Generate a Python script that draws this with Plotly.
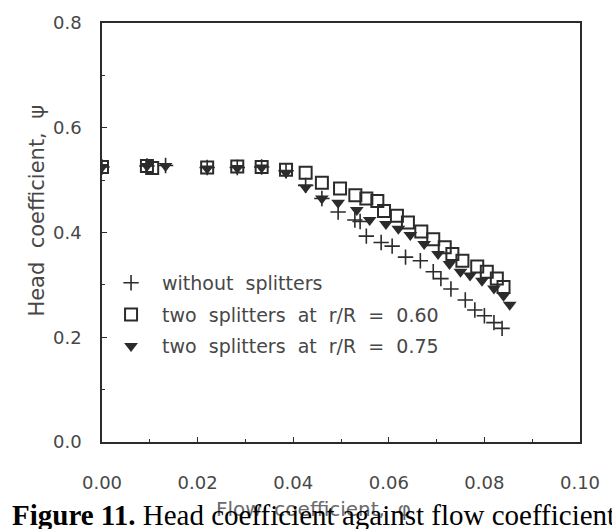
import plotly.graph_objects as go

# Flow coefficient (phi) and head coefficient (psi)
phi_none = [0.0, 0.0094, 0.0133, 0.022, 0.0283, 0.0334, 0.0385, 0.0426, 0.046,
            0.0494, 0.0529, 0.054, 0.0553, 0.0584, 0.0607, 0.0635, 0.0666, 0.0693,
            0.0709, 0.073, 0.076, 0.078, 0.080, 0.082, 0.0837]
psi_none = [0.525, 0.527, 0.528, 0.524, 0.524, 0.525, 0.518, 0.49, 0.465,
            0.439, 0.424, 0.421, 0.393, 0.381, 0.374, 0.353, 0.346, 0.325,
            0.312, 0.292, 0.271, 0.252, 0.241, 0.228, 0.217]

phi_060 = [0.0, 0.0094, 0.0105, 0.022, 0.0283, 0.0334, 0.0385, 0.0426, 0.046,
           0.0498, 0.053, 0.0553, 0.0576, 0.059, 0.0617, 0.064, 0.0668, 0.0693,
           0.0717, 0.0733, 0.0754, 0.0785, 0.0805, 0.0826, 0.0840]
psi_060 = [0.525, 0.527, 0.523, 0.524, 0.526, 0.525, 0.52, 0.514, 0.495,
           0.484, 0.471, 0.465, 0.460, 0.441, 0.432, 0.419, 0.402, 0.387,
           0.372, 0.359, 0.346, 0.335, 0.325, 0.312, 0.296]

phi_075 = [0.0, 0.0094, 0.0133, 0.022, 0.0283, 0.0334, 0.0385, 0.0426, 0.046,
           0.0494, 0.0533, 0.056, 0.0594, 0.062, 0.0645, 0.0674, 0.0703, 0.0727,
           0.075, 0.077, 0.0795, 0.082, 0.084, 0.0853]
psi_075 = [0.525, 0.527, 0.527, 0.522, 0.523, 0.524, 0.514, 0.486, 0.465,
           0.457, 0.443, 0.424, 0.416, 0.407, 0.395, 0.378, 0.359, 0.340,
           0.325, 0.318, 0.308, 0.293, 0.279, 0.262]

x_ticks = [0.0, 0.02, 0.04, 0.06, 0.08, 0.10]
y_ticks = [0.0, 0.2, 0.4, 0.6, 0.8]

NB = "\u00a0 "
names = ["without" + NB + "splitters",
         "two" + NB + "splitters" + NB + "at" + NB + "r/R" + NB + "=" + NB + "0.60",
         "two" + NB + "splitters" + NB + "at" + NB + "r/R" + NB + "=" + NB + "0.75"]

INK = "#2b2b2b"
TXT = "#474747"
FONT = "DejaVu Sans"

fig = go.Figure()
fig.add_trace(go.Scatter(
    x=phi_none, y=psi_none, mode="markers", name=names[0],
    legendgroup="a",
    marker=dict(symbol="cross-thin", size=11, line=dict(width=1.6, color=INK), color=INK)))
fig.add_trace(go.Scatter(
    x=phi_060, y=psi_060, mode="markers", name=names[1],
    legendgroup="b",
    marker=dict(symbol="square-open", size=12, line=dict(width=2, color=INK), color=INK)))
fig.add_trace(go.Scatter(
    x=phi_075, y=psi_075, mode="markers", name=names[2],
    legendgroup="c",
    marker=dict(symbol="triangle-down", size=12, color=INK, line=dict(width=0))))

L, R, T, B = 102, 20, 14, 87
W, H = 612, 529
pw, ph = W - L - R, H - T - B

def px(xp):
    return (xp - L) / pw

def py(yp):
    return (H - B - yp) / ph

fig.update_layout(
    width=W, height=H,
    margin=dict(l=L, r=R, t=T, b=B),
    paper_bgcolor="white", plot_bgcolor="white",
    font=dict(family=FONT, size=18, color=TXT),
    showlegend=True,
    legend=dict(x=px(100), y=py(260), xanchor="left", yanchor="top",
                bgcolor="rgba(0,0,0,0)", tracegroupgap=4, itemwidth=52,
                font=dict(family=FONT, size=19, color=TXT)),
    xaxis=dict(range=[0, 0.10], tickvals=x_ticks, ticktext=[f"{v:.2f}" for v in x_ticks],
               ticks="inside", ticklen=5, tickcolor=INK, tickwidth=1.3,
               minor=dict(dtick=0.01, ticks="inside", ticklen=3, tickcolor=INK),
               showline=True, linecolor=INK, linewidth=1.6, mirror=True,
               showgrid=False, zeroline=False, ticklabelstandoff=24,
               ticklabeloverflow="allow",
               tickfont=dict(size=18, color=TXT)),
    yaxis=dict(range=[0, 0.8], tickvals=y_ticks, ticktext=[f"{v:.1f}" for v in y_ticks],
               ticks="inside", ticklen=5, tickcolor=INK, tickwidth=1.3,
               minor=dict(dtick=0.1, ticks="inside", ticklen=3, tickcolor=INK),
               showline=True, linecolor=INK, linewidth=1.6, mirror=True,
               showgrid=False, zeroline=False, ticklabelstandoff=15,
               ticklabeloverflow="allow",
               tickfont=dict(size=18, color=TXT)),
    annotations=[
        dict(text="Head" + NB + "coefficient," + NB + "\u03c8", textangle=-90,
             xref="paper", yref="paper",
             x=px(35), y=py(206), showarrow=False, xanchor="center", yanchor="middle",
             font=dict(family=FONT, size=21, color=TXT)),
        dict(text="Flow" + NB + "coefficient," + NB + "\u03c6", xref="paper", yref="paper",
             x=px(319), y=py(510), showarrow=False, xanchor="center", yanchor="middle",
             font=dict(family=FONT, size=20, color="#6a6a6a")),
        dict(text="<b>Figure 11.</b> Head coefficient against flow coefficient",
             xref="paper", yref="paper", x=px(8), y=py(517), showarrow=False,
             xanchor="left", yanchor="middle",
             font=dict(family="Liberation Serif", size=29, color="black")),
    ],
)

fig.write_html("out.html")
